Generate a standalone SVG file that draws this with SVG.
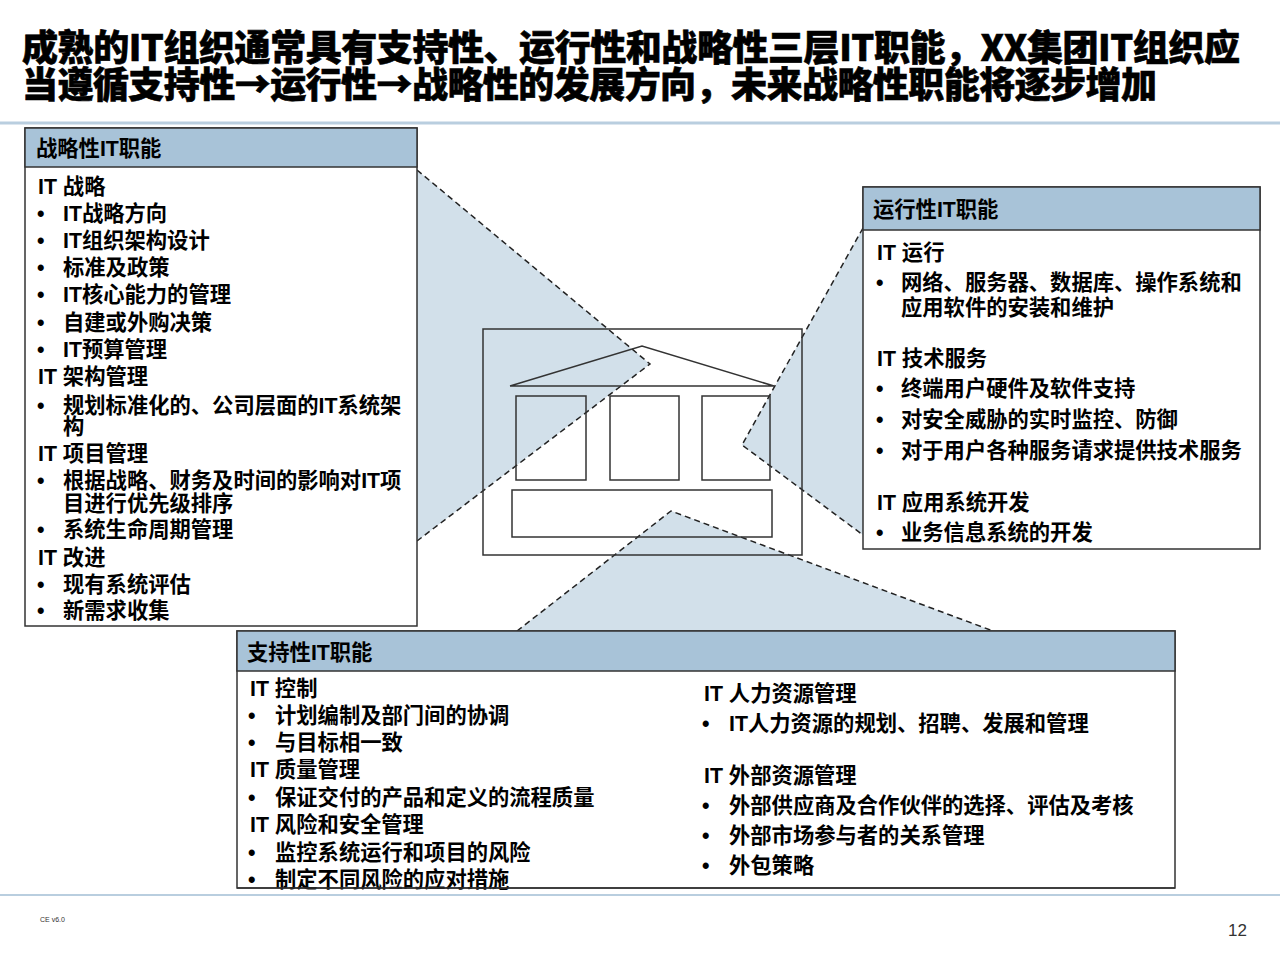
<svg xmlns="http://www.w3.org/2000/svg" width="1280" height="960" viewBox="0 0 1280 960">
<style>
.t{font-family:"Liberation Sans","Noto Sans CJK SC",sans-serif;font-weight:bold;font-size:21.3px;fill:#000}
.title{font-family:"Noto Sans CJK SC",sans-serif;font-weight:900;font-size:36px;fill:#000;stroke:#000;stroke-width:0.6}
.box{fill:#fff;stroke:#333;stroke-width:1.5}
.hdr{fill:#a8c3d8;stroke:#333;stroke-width:1.5}
.wedge{fill:#d2e0ea;stroke:none}
.dash{fill:none;stroke:#222;stroke-width:1.5;stroke-dasharray:6,4}
.bld{fill:none;stroke:#333;stroke-width:1.5}
.sep{stroke:#b9cedf;stroke-width:3}
</style>
<rect x="0" y="0" width="1280" height="960" fill="#fff"/>
<g id="title">
<text class="title" x="22" y="61" textLength="1218" lengthAdjust="spacing">成熟的IT组织通常具有支持性、运行性和战略性三层IT职能，XX集团IT组织应</text>
<text class="title" x="22" y="98" textLength="1135" lengthAdjust="spacing">当遵循支持性→运行性→战略性的发展方向，未来战略性职能将逐步增加</text>
</g>
<line class="sep" x1="0" y1="123" x2="1280" y2="123"/>
<line class="sep" x1="0" y1="895" x2="1280" y2="895" style="stroke-width:2"/>
<g id="connectors">
<polygon class="wedge" points="417,170 650,364 417,541"/>
<polygon class="wedge" points="863,228 742,445 863,535"/>
<polygon class="wedge" points="517,631 671,511 993,631"/>
<polyline class="dash" points="417,170 650,364 417,541"/>
<polyline class="dash" points="863,228 742,445 863,535"/>
<polyline class="dash" points="517,631 671,511 993,631"/>
</g>
<g id="building">
<rect class="bld" x="483" y="329" width="319" height="226"/>
<polyline class="bld" points="510,386 642,346 774,386 510,386"/>
<rect class="bld" x="516" y="396" width="70" height="84"/>
<rect class="bld" x="610" y="396" width="69" height="84"/>
<rect class="bld" x="702" y="396" width="68" height="84"/>
<rect class="bld" x="512" y="490" width="260" height="47"/>
</g>
<g id="strategic">
<rect class="box" x="25" y="128" width="392" height="498"/>
<rect class="hdr" x="25" y="128" width="392" height="39"/>
<text class="t" x="36" y="156">战略性IT职能</text>
<text class="t" x="38" y="194">IT 战略</text>
<text class="t" x="37" y="221">•</text><text class="t" x="63" y="221">IT战略方向</text>
<text class="t" x="37" y="248">•</text><text class="t" x="63" y="248">IT组织架构设计</text>
<text class="t" x="37" y="275">•</text><text class="t" x="63" y="275">标准及政策</text>
<text class="t" x="37" y="302">•</text><text class="t" x="63" y="302">IT核心能力的管理</text>
<text class="t" x="37" y="330">•</text><text class="t" x="63" y="330">自建或外购决策</text>
<text class="t" x="37" y="357">•</text><text class="t" x="63" y="357">IT预算管理</text>
<text class="t" x="38" y="384">IT 架构管理</text>
<text class="t" x="37" y="413">•</text><text class="t" x="63" y="413">规划标准化的、公司层面的IT系统架</text>
<text class="t" x="63" y="434">构</text>
<text class="t" x="38" y="461">IT 项目管理</text>
<text class="t" x="37" y="488">•</text><text class="t" x="63" y="488">根据战略、财务及时间的影响对IT项</text>
<text class="t" x="63" y="511">目进行优先级排序</text>
<text class="t" x="37" y="537">•</text><text class="t" x="63" y="537">系统生命周期管理</text>
<text class="t" x="38" y="565">IT 改进</text>
<text class="t" x="37" y="592">•</text><text class="t" x="63" y="592">现有系统评估</text>
<text class="t" x="37" y="618">•</text><text class="t" x="63" y="618">新需求收集</text>
</g>
<g id="operational">
<rect class="box" x="863" y="187" width="397" height="362"/>
<rect class="hdr" x="863" y="187" width="397" height="43"/>
<text class="t" x="873" y="217">运行性IT职能</text>
<text class="t" x="877" y="260">IT 运行</text>
<text class="t" x="876" y="290">•</text><text class="t" x="901" y="290">网络、服务器、数据库、操作系统和</text>
<text class="t" x="901" y="315">应用软件的安装和维护</text>
<text class="t" x="877" y="366">IT 技术服务</text>
<text class="t" x="876" y="396">•</text><text class="t" x="901" y="396">终端用户硬件及软件支持</text>
<text class="t" x="876" y="427">•</text><text class="t" x="901" y="427">对安全威胁的实时监控、防御</text>
<text class="t" x="876" y="458">•</text><text class="t" x="901" y="458">对于用户各种服务请求提供技术服务</text>
<text class="t" x="877" y="510">IT 应用系统开发</text>
<text class="t" x="876" y="540">•</text><text class="t" x="901" y="540">业务信息系统的开发</text>
</g>
<g id="support">
<rect class="box" x="237" y="631" width="938" height="257"/>
<rect class="hdr" x="237" y="631" width="938" height="40"/>
<text class="t" x="247" y="660">支持性IT职能</text>
<text class="t" x="250" y="696">IT 控制</text>
<text class="t" x="248" y="723">•</text><text class="t" x="275" y="723">计划编制及部门间的协调</text>
<text class="t" x="248" y="750">•</text><text class="t" x="275" y="750">与目标相一致</text>
<text class="t" x="250" y="777">IT 质量管理</text>
<text class="t" x="248" y="805">•</text><text class="t" x="275" y="805">保证交付的产品和定义的流程质量</text>
<text class="t" x="250" y="832">IT 风险和安全管理</text>
<text class="t" x="248" y="860">•</text><text class="t" x="275" y="860">监控系统运行和项目的风险</text>
<text class="t" x="248" y="887">•</text><text class="t" x="275" y="887">制定不同风险的应对措施</text>
<text class="t" x="704" y="701">IT 人力资源管理</text>
<text class="t" x="702" y="731">•</text><text class="t" x="729" y="731">IT人力资源的规划、招聘、发展和管理</text>
<text class="t" x="704" y="783">IT 外部资源管理</text>
<text class="t" x="702" y="813">•</text><text class="t" x="729" y="813">外部供应商及合作伙伴的选择、评估及考核</text>
<text class="t" x="702" y="843">•</text><text class="t" x="729" y="843">外部市场参与者的关系管理</text>
<text class="t" x="702" y="873">•</text><text class="t" x="729" y="873">外包策略</text>
<line x1="237" y1="888" x2="1175" y2="888" stroke="#333" stroke-width="1.5"/>
</g>
<g id="footer">
<text x="40" y="922" style="font-family:'Liberation Sans',sans-serif;font-size:7px;fill:#333">CE v6.0</text>
<text x="1228" y="936" style="font-family:'Liberation Sans',sans-serif;font-size:17px;fill:#333">12</text>
</g>
</svg>
